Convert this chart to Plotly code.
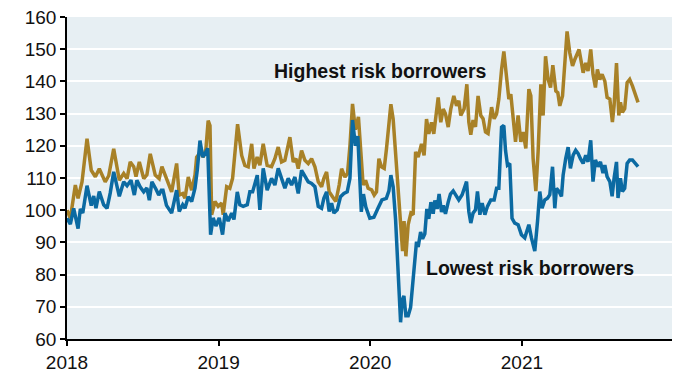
import plotly.graph_objects as go

# Spread index for highest- and lowest-risk borrowers (2018 start = 100).
# Observation times are in fractional years.
gold_years = [
    2018.000, 2018.022, 2018.055, 2018.073, 2018.099, 2018.132, 2018.160, 2018.187, 2018.213, 2018.252,
    2018.275, 2018.308, 2018.345, 2018.374, 2018.396, 2018.417, 2018.440, 2018.455, 2018.477, 2018.506,
    2018.527, 2018.549, 2018.582, 2018.608, 2018.626, 2018.657, 2018.690, 2018.723, 2018.740, 2018.763,
    2018.778, 2018.800, 2018.822, 2018.844, 2018.855, 2018.881, 2018.898, 2018.916, 2018.931, 2018.943,
    2018.954, 2018.976, 2018.997, 2019.020, 2019.030, 2019.053, 2019.074, 2019.092, 2019.125, 2019.152,
    2019.173, 2019.195, 2019.218, 2019.233, 2019.254, 2019.272, 2019.294, 2019.320, 2019.349, 2019.371,
    2019.393, 2019.415, 2019.437, 2019.470, 2019.492, 2019.510, 2019.525, 2019.547, 2019.569, 2019.591,
    2019.613, 2019.635, 2019.657, 2019.679, 2019.694, 2019.712, 2019.729, 2019.751, 2019.773, 2019.795,
    2019.811, 2019.833, 2019.850, 2019.866, 2019.883, 2019.902, 2019.922, 2019.938, 2019.953, 2019.969,
    2019.986, 2020.009, 2020.026, 2020.041, 2020.057, 2020.074, 2020.092, 2020.107, 2020.118, 2020.136,
    2020.151, 2020.167, 2020.184, 2020.202, 2020.213, 2020.223, 2020.235, 2020.250, 2020.268, 2020.283,
    2020.299, 2020.316, 2020.338, 2020.355, 2020.371, 2020.386, 2020.404, 2020.419, 2020.432, 2020.448,
    2020.465, 2020.481, 2020.496, 2020.514, 2020.531, 2020.551, 2020.569, 2020.584, 2020.597, 2020.619,
    2020.637, 2020.650, 2020.663, 2020.678, 2020.694, 2020.711, 2020.729, 2020.744, 2020.760, 2020.777,
    2020.800, 2020.817, 2020.833, 2020.848, 2020.866, 2020.881, 2020.897, 2020.914, 2020.927, 2020.942,
    2020.958, 2020.975, 2020.993, 2021.008, 2021.026, 2021.046, 2021.059, 2021.074, 2021.092, 2021.107,
    2021.125, 2021.140, 2021.156, 2021.173, 2021.189, 2021.204, 2021.224, 2021.237, 2021.250, 2021.268,
    2021.283, 2021.298, 2021.316, 2021.334, 2021.349, 2021.377, 2021.393, 2021.404, 2021.421, 2021.436,
    2021.454, 2021.469, 2021.485, 2021.498, 2021.514, 2021.529, 2021.547, 2021.562, 2021.580, 2021.597,
    2021.608, 2021.624, 2021.639, 2021.650, 2021.663, 2021.678, 2021.694, 2021.711, 2021.729, 2021.744,
    2021.766,
]
gold_values = [
    100.0, 97.5, 107.8, 103.7, 108.8, 122.2, 112.4, 110.4, 112.9, 108.8,
    110.7, 119.1, 109.3, 111.4, 109.8, 115.0, 113.5, 110.4, 115.0, 109.8,
    111.0, 117.5, 110.9, 109.8, 113.5, 109.9, 105.7, 114.5, 104.7, 105.2,
    103.7, 110.3, 106.2, 110.9, 116.5, 118.0, 116.5, 119.0, 127.8, 126.3,
    98.6, 102.7, 101.2, 102.2, 98.6, 107.3, 106.8, 109.9, 126.7, 117.0,
    113.9, 113.5, 120.6, 112.9, 116.5, 114.0, 120.6, 113.9, 113.5, 116.0,
    119.6, 115.0, 115.5, 122.7, 115.0, 116.0, 112.9, 118.5, 115.5, 114.5,
    116.0, 113.5, 108.8, 107.3, 109.9, 111.9, 105.7, 104.2, 102.7, 107.8,
    112.9, 110.3, 111.4, 120.0, 133.0, 125.0, 129.0, 118.0, 107.8, 109.3,
    106.8, 106.3, 104.7, 105.7, 116.0, 113.5, 113.0, 119.1, 124.2, 132.9,
    128.3, 117.0, 106.8, 95.5, 87.3, 96.6, 85.7, 95.5, 99.1, 98.6,
    118.1, 116.5, 120.6, 117.0, 128.3, 123.7, 127.3, 123.7, 128.3, 135.0,
    127.3, 131.4, 129.9, 125.8, 131.4, 135.5, 132.4, 134.0, 129.4, 131.5,
    139.1, 127.4, 123.4, 128.0, 125.9, 135.5, 129.4, 128.4, 124.3, 123.8,
    132.0, 128.4, 129.9, 134.5, 143.7, 149.3, 142.2, 134.5, 136.0, 128.4,
    121.2, 129.4, 121.2, 124.3, 119.2, 137.6, 135.5, 116.1, 105.9, 118.2,
    139.1, 129.4, 147.8, 140.6, 138.1, 145.0, 137.0, 136.5, 132.4, 135.5,
    145.7, 155.5, 148.8, 144.8, 146.8, 149.9, 145.7, 142.7, 145.7, 143.2,
    149.9, 142.2, 138.1, 143.7, 140.6, 142.2, 140.1, 135.0, 134.5, 127.4,
    132.4, 145.7, 129.4, 133.5, 130.4, 131.5, 139.6, 140.6, 138.6, 136.5,
    133.5,
]

blue_years = [
    2018.000, 2018.022, 2018.044, 2018.073, 2018.088, 2018.104, 2018.132, 2018.160, 2018.176, 2018.191,
    2018.213, 2018.242, 2018.264, 2018.285, 2018.308, 2018.330, 2018.345, 2018.374, 2018.396, 2018.422,
    2018.444, 2018.461, 2018.483, 2018.506, 2018.527, 2018.543, 2018.560, 2018.587, 2018.605, 2018.622,
    2018.633, 2018.656, 2018.690, 2018.723, 2018.740, 2018.763, 2018.778, 2018.800, 2018.822, 2018.844,
    2018.859, 2018.877, 2018.895, 2018.910, 2018.928, 2018.947, 2018.964, 2018.982, 2019.004, 2019.026,
    2019.042, 2019.063, 2019.086, 2019.101, 2019.123, 2019.140, 2019.162, 2019.189, 2019.206, 2019.224,
    2019.239, 2019.255, 2019.272, 2019.294, 2019.320, 2019.349, 2019.371, 2019.393, 2019.415, 2019.437,
    2019.459, 2019.481, 2019.503, 2019.525, 2019.547, 2019.569, 2019.591, 2019.613, 2019.635, 2019.657,
    2019.679, 2019.694, 2019.712, 2019.729, 2019.745, 2019.760, 2019.782, 2019.804, 2019.826, 2019.848,
    2019.866, 2019.883, 2019.902, 2019.918, 2019.941, 2019.955, 2019.971, 2019.997, 2020.024, 2020.050,
    2020.077, 2020.106, 2020.123, 2020.136, 2020.151, 2020.167, 2020.180, 2020.191, 2020.200, 2020.210,
    2020.222, 2020.235, 2020.250, 2020.266, 2020.279, 2020.294, 2020.305, 2020.316, 2020.332, 2020.345,
    2020.360, 2020.373, 2020.386, 2020.400, 2020.415, 2020.426, 2020.441, 2020.454, 2020.470, 2020.481,
    2020.496, 2020.514, 2020.529, 2020.547, 2020.569, 2020.584, 2020.606, 2020.635, 2020.650, 2020.663,
    2020.678, 2020.694, 2020.707, 2020.723, 2020.738, 2020.756, 2020.773, 2020.795, 2020.817, 2020.833,
    2020.848, 2020.866, 2020.881, 2020.892, 2020.905, 2020.920, 2020.935, 2020.953, 2020.975, 2020.997,
    2021.019, 2021.046, 2021.063, 2021.085, 2021.103, 2021.118, 2021.133, 2021.151, 2021.169, 2021.184,
    2021.202, 2021.217, 2021.228, 2021.245, 2021.261, 2021.272, 2021.289, 2021.305, 2021.320, 2021.338,
    2021.355, 2021.371, 2021.386, 2021.404, 2021.421, 2021.436, 2021.454, 2021.469, 2021.485, 2021.502,
    2021.518, 2021.535, 2021.547, 2021.562, 2021.580, 2021.595, 2021.608, 2021.624, 2021.634, 2021.650,
    2021.663, 2021.678, 2021.694, 2021.711, 2021.729, 2021.751, 2021.766,
]
blue_values = [
    97.5, 95.7, 100.6, 94.3, 100.4, 99.1, 107.6, 101.4, 104.4, 100.6,
    105.8, 101.7, 100.6, 105.3, 111.9, 107.6, 104.3, 108.8, 107.6, 109.3,
    104.7, 109.3, 107.2, 105.7, 106.9, 103.1, 108.8, 106.5, 104.7, 106.2,
    106.2, 101.5, 99.1, 106.2, 99.6, 101.7, 100.6, 104.2, 102.7, 106.8,
    112.4, 121.6, 116.5, 117.5, 119.2, 92.4, 97.6, 95.1, 97.6, 92.4,
    99.1, 96.6, 99.1, 97.1, 105.7, 101.7, 101.2, 101.7, 105.7, 105.7,
    108.8, 110.9, 100.1, 113.0, 106.2, 109.9, 107.8, 113.0, 109.9, 106.8,
    109.9, 107.8, 110.3, 105.2, 112.4, 110.3, 108.8, 108.3, 107.3, 101.2,
    100.6, 103.7, 105.7, 99.6, 102.2, 99.1, 100.1, 104.2, 105.2, 105.7,
    109.9, 128.0, 120.0, 123.0, 99.5, 105.0, 101.0, 97.5, 97.8, 100.5,
    103.2, 103.7, 106.0, 110.9, 107.3, 97.1, 84.8, 69.8, 65.2, 71.9,
    73.4, 67.2, 67.2, 69.8, 76.9, 86.1, 90.2, 88.6, 93.2, 91.1,
    92.7, 100.4, 97.3, 102.5, 98.9, 103.0, 100.4, 105.0, 99.4, 101.5,
    98.9, 102.5, 105.0, 106.0, 104.5, 103.2, 104.8, 108.9, 99.6, 96.0,
    99.1, 100.1, 105.8, 98.6, 102.2, 98.6, 101.2, 103.2, 103.2, 106.8,
    106.8, 125.8, 126.3, 118.6, 114.0, 114.5, 97.5, 96.0, 95.5, 92.4,
    91.4, 95.5, 91.4, 87.3, 96.5, 105.8, 100.6, 103.2, 103.7, 104.8,
    113.5, 100.6, 106.8, 105.8, 104.3, 110.9, 116.0, 119.6, 113.0, 117.1,
    118.6, 117.6, 116.0, 114.5, 117.1, 115.0, 121.7, 108.9, 115.6, 113.5,
    115.0, 111.5, 114.0, 110.4, 108.9, 104.3, 109.9, 115.0, 103.8, 109.9,
    105.8, 106.8, 114.5, 115.6, 115.6, 114.5, 113.5,
]

year_ticks = [2018, 2019, 2020, 2021]
value_ticks = [60, 70, 80, 90, 100, 110, 120, 130, 140, 150, 160]

GOLD = "#a88127"
BLUE = "#0b6aa2"
FONT = "Liberation Sans, Arial, sans-serif"

fig = go.Figure()
fig.add_trace(go.Scatter(
    x=gold_years, y=gold_values, mode="lines",
    line=dict(color=GOLD, width=3.5), name="Highest risk borrowers",
))
fig.add_trace(go.Scatter(
    x=blue_years, y=blue_values, mode="lines",
    line=dict(color=BLUE, width=3.5), name="Lowest risk borrowers",
))

fig.add_annotation(x=2020.07, y=143.1, text="<b>Highest risk borrowers</b>",
                   showarrow=False, font=dict(family=FONT, size=19.5, color="#111111"))
fig.add_annotation(x=2021.055, y=82.0, text="<b>Lowest risk borrowers</b>",
                   showarrow=False, font=dict(family=FONT, size=19.5, color="#111111"))

fig.update_layout(
    width=673, height=374,
    margin=dict(l=67, r=1, t=17, b=32),
    paper_bgcolor="white",
    plot_bgcolor="#e7eff3",
    showlegend=False,
    font=dict(family=FONT, size=19, color="#111111"),
)
fig.update_xaxes(
    range=[2018, 2021.99],
    tickvals=year_ticks, ticktext=[str(y) for y in year_ticks],
    showgrid=False, zeroline=False,
    showline=True, linecolor="black", linewidth=1.5,
    ticks="outside", ticklen=5, tickwidth=1.5, tickcolor="black",
)
fig.update_yaxes(
    range=[60, 160],
    tickvals=value_ticks,
    showgrid=True, gridcolor="white", gridwidth=2,
    zeroline=False,
    showline=True, linecolor="black", linewidth=1.5,
    ticks="outside", ticklen=5, tickwidth=1.5, tickcolor="black",
)

fig.write_html("out.html")
